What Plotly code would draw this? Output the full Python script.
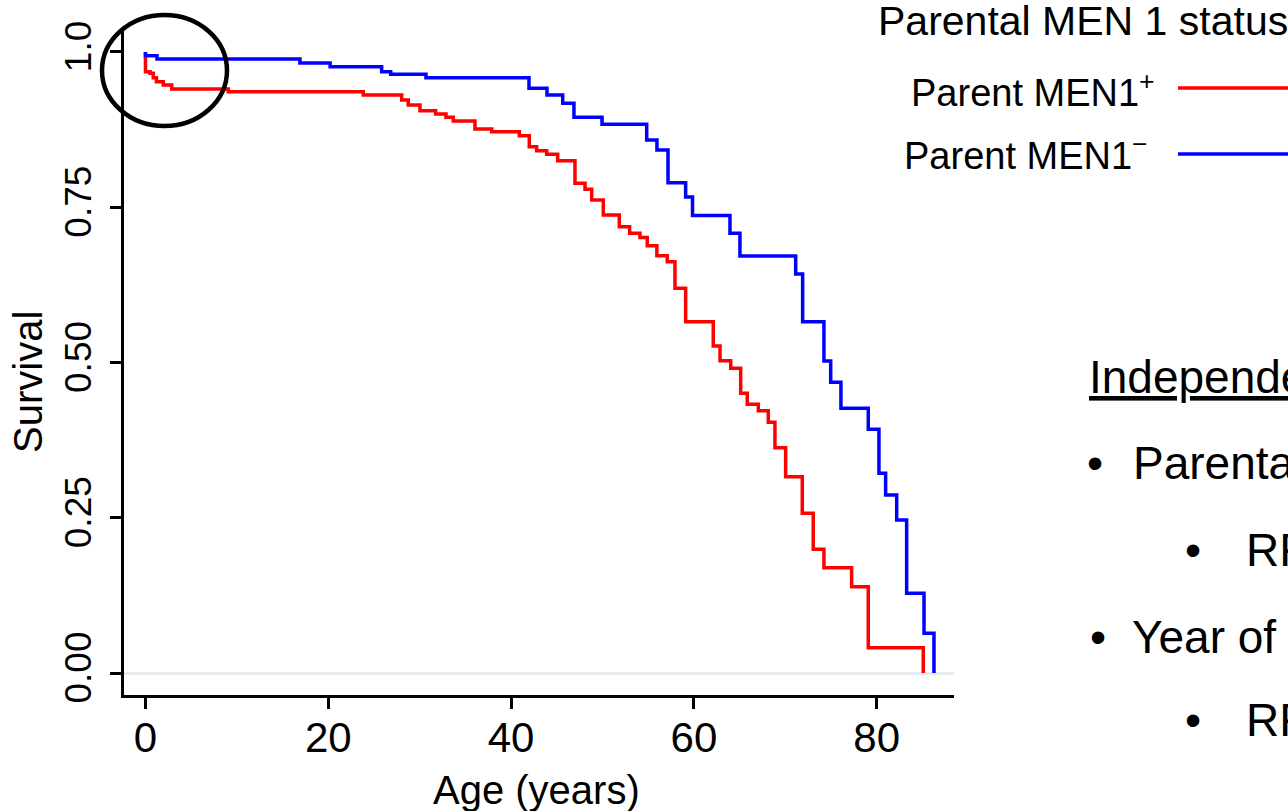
import plotly.graph_objects as go

# Kaplan-Meier step data
red_age = [0, 0, 0.5, 0.85, 1.2, 1.95, 2.87, 9.06, 23.83, 28.03, 28.75, 30.03, 31.75, 32.88, 33.68, 36.05, 37.88,
           40.9, 41.99, 42.8, 43.9, 45.1, 46.99, 48.09, 48.82, 50.09, 51.84, 52.97, 54.1, 54.9, 55.95, 57.09, 57.93, 59.1,
           62.12, 62.86, 64.03, 65.12, 65.84, 67.05, 68.14, 68.87, 70.04, 71.86, 73.06, 74.23, 77.26, 79.08, 85.1]
red_surv = [1.0, 0.968, 0.9657, 0.9586, 0.9522, 0.9469, 0.9404, 0.9361, 0.9308, 0.9227, 0.9147, 0.9055, 0.9002, 0.8948, 0.8889, 0.876, 0.8717,
            0.8652, 0.8475, 0.8411, 0.8353, 0.825, 0.7886, 0.7789, 0.7617, 0.7375, 0.7187, 0.708, 0.7013, 0.688, 0.672, 0.6623, 0.6195, 0.5657,
            0.5266, 0.5029, 0.4907, 0.4504, 0.4327, 0.4224, 0.4037, 0.3628, 0.3161, 0.2572, 0.1992, 0.1696, 0.139, 0.0407, 0.0]

blue_age = [0, 0, 1.26, 16.9, 20.2, 25.84, 26.83, 30.69, 41.96, 43.93, 45.65, 46.88, 49.95, 54.84, 55.96, 57.17,
            59.1, 59.85, 63.95, 65.04, 71.14, 71.9, 74.23, 74.97, 76.09, 79.08, 80.25, 80.98, 82.19, 83.28, 85.18, 86.27]
blue_surv = [1.0, 0.994, 0.9887, 0.9823, 0.9763, 0.9683, 0.9641, 0.9586, 0.9416, 0.9308, 0.9174, 0.8948, 0.8836, 0.8583, 0.8422, 0.7895,
             0.7665, 0.7367, 0.7081, 0.6715, 0.6425, 0.5657, 0.5024, 0.4681, 0.4263, 0.3924, 0.3216, 0.2866, 0.2464, 0.1283, 0.0639, 0.0]

x_ticks = [0, 20, 40, 60, 80]
y_ticks = [0.0, 0.25, 0.5, 0.75, 1.0]
y_tick_text = ["0.00", "0.25", "0.50", "0.75", "1.0"]

series_names = ["Parent MEN1<sup>+</sup>", "Parent MEN1<sup>−</sup>"]
legend_title = "Parental MEN 1 status"
slide_heading = "Independent variables"
slide_bullets = ["Parental MEN1 status", "Year of birth"]
slide_sub = ["RR", "RR"]

FONT = "Liberation Sans, Arial, sans-serif"
W, H = 1288, 811
L, R, T, B = 124, 334, 30, 116
PW, PH = W - L - R, H - T - B


def px(x):
    return (x - L) / PW


def py(y):
    return (H - B - y) / PH


fig = go.Figure()
fig.add_trace(go.Scatter(x=red_age, y=red_surv, mode="lines", line=dict(color="#FF0000", width=3.5, shape="hv"),
                         name=series_names[0], showlegend=False))
fig.add_trace(go.Scatter(x=blue_age, y=blue_surv, mode="lines", line=dict(color="#0000FF", width=3.5, shape="hv"),
                         name=series_names[1], showlegend=False))

fig.update_xaxes(range=[-2.35, 88.46], tickvals=x_ticks, ticks="outside", ticklen=11, tickwidth=3, tickcolor="black",
                 showline=True, linecolor="black", linewidth=3, showgrid=False, zeroline=False,
                 tickfont=dict(family=FONT, size=42, color="black"), ticklabelstandoff=-7)
fig.update_yaxes(range=[-0.0354, 1.0354], tickvals=y_ticks, ticktext=y_tick_text, ticks="outside", ticklen=11,
                 tickwidth=3, tickcolor="black", showline=True, linecolor="black", linewidth=3, showgrid=False,
                 zeroline=True, zerolinecolor="#E6ECEF", zerolinewidth=3, tickangle=-90,
                 tickfont=dict(family=FONT, size=37, color="black"), ticklabelstandoff=4)

ann = []
ann.append(dict(text="Age (years)", x=px(536), y=py(790), xref="paper", yref="paper", showarrow=False,
                xanchor="center", yanchor="middle", font=dict(family=FONT, size=40, color="black")))
ann.append(dict(text="Survival", x=px(28), y=py(382), xref="paper", yref="paper", showarrow=False, textangle=-90,
                xanchor="center", yanchor="middle", font=dict(family=FONT, size=40, color="black")))
ann.append(dict(text=legend_title, x=px(876), y=py(21), xref="paper", yref="paper", showarrow=False,
                xanchor="left", yanchor="middle", font=dict(family=FONT, size=41, color="black")))
ann.append(dict(text=series_names[0], x=px(1157), y=py(90), xref="paper", yref="paper", showarrow=False,
                xanchor="right", yanchor="middle", font=dict(family=FONT, size=38, color="black")))
ann.append(dict(text=series_names[1], x=px(1150), y=py(153), xref="paper", yref="paper", showarrow=False,
                xanchor="right", yanchor="middle", font=dict(family=FONT, size=38, color="black")))
ann.append(dict(text="<u>" + slide_heading + "</u>", x=px(1087), y=py(377), xref="paper", yref="paper",
                showarrow=False, xanchor="left", yanchor="middle", font=dict(family=FONT, size=46, color="black")))
rows = [(1095, 1131, 463, slide_bullets[0]), (1193, 1244, 550, slide_sub[0]),
        (1098, 1130, 637, slide_bullets[1]), (1193, 1244, 720, slide_sub[1])]
for bx, tx, cy, txt in rows:
    ann.append(dict(text="•", x=px(bx), y=py(cy), xref="paper", yref="paper", showarrow=False,
                    xanchor="center", yanchor="middle", font=dict(family=FONT, size=46, color="black")))
    ann.append(dict(text=txt, x=px(tx), y=py(cy), xref="paper", yref="paper", showarrow=False,
                    xanchor="left", yanchor="middle", font=dict(family=FONT, size=46, color="black")))

shapes = [
    dict(type="circle", xref="paper", yref="paper", x0=px(102), x1=px(227), y0=py(126), y1=py(15),
         line=dict(color="black", width=4.5)),
    dict(type="line", xref="paper", yref="paper", x0=px(1178), x1=px(1300), y0=py(88), y1=py(88),
         line=dict(color="#FF0000", width=3.5)),
    dict(type="line", xref="paper", yref="paper", x0=px(1178), x1=px(1300), y0=py(154), y1=py(154),
         line=dict(color="#0000FF", width=3.5)),
]

fig.update_layout(width=W, height=H, margin=dict(l=L, r=R, t=T, b=B), plot_bgcolor="white", paper_bgcolor="white",
                  annotations=ann, shapes=shapes, showlegend=False)

fig.write_html("out.html", config={"displayModeBar": False},
               post_script="document.body.style.margin='0';document.body.style.overflow='hidden';")
